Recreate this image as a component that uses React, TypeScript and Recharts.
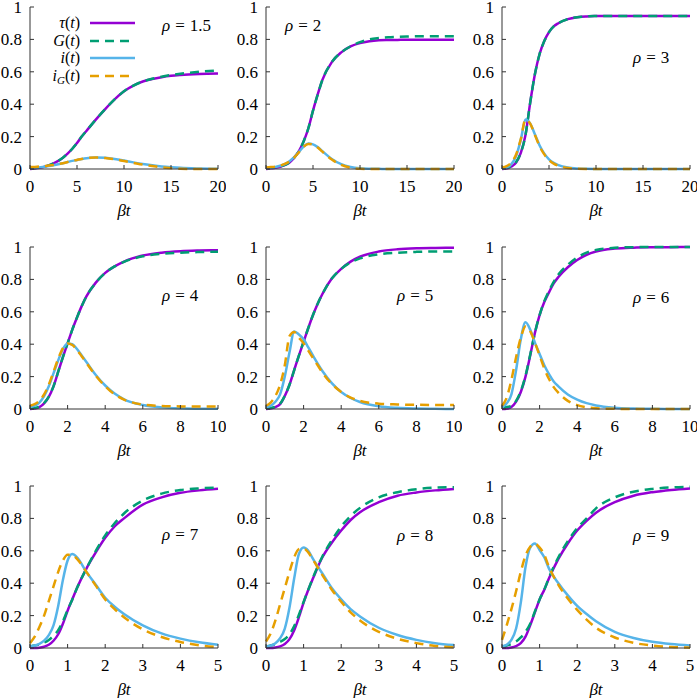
import React from 'react';
import { LineChart, Line, XAxis, YAxis } from 'recharts';

const FONT = '"Liberation Serif", "DejaVu Serif", serif';
const PURPLE = '#9400D3';
const GREEN = '#009E73';
const BLUE = '#56B4E9';
const ORANGE = '#E69F00';
const FRAME = '#333333';

// time grids (beta t)
const T_ROW1 = [0, 0.5, 1, 1.5, 2, 2.5, 3, 3.5, 4, 4.5, 5, 5.5, 6, 7, 8, 9, 10, 11, 12, 13, 14, 15, 16, 18, 20];
const T_ROW2 = [0, 0.25, 0.5, 0.75, 1, 1.25, 1.5, 1.75, 2, 2.25, 2.5, 2.75, 3, 3.5, 4, 4.5, 5, 6, 7, 8, 9, 10];
const T_ROW3 = [0, 0.125, 0.25, 0.375, 0.5, 0.625, 0.75, 0.875, 1, 1.125, 1.25, 1.5, 1.75, 2, 2.25, 2.5, 3, 3.5, 4, 4.5, 5];

const X_TICKS_ROW1 = [0, 5, 10, 15, 20];
const X_TICKS_ROW2 = [0, 2, 4, 6, 8, 10];
const X_TICKS_ROW3 = [0, 1, 2, 3, 4, 5];
const Y_TICKS = [0, 0.2, 0.4, 0.6, 0.8, 1];

// rho = 1.5
const TAU_1 = [0, 0.003, 0.007, 0.013, 0.022, 0.035, 0.05, 0.07, 0.095, 0.125, 0.16, 0.2, 0.235, 0.305, 0.37, 0.43, 0.48, 0.515, 0.54, 0.556, 0.567, 0.575, 0.58, 0.586, 0.589];
const G_1 = [0.005, 0.006, 0.009, 0.014, 0.022, 0.035, 0.05, 0.07, 0.095, 0.125, 0.16, 0.2, 0.235, 0.305, 0.37, 0.43, 0.48, 0.515, 0.54, 0.557, 0.57, 0.58, 0.588, 0.6, 0.608];
const I_1 = [0.005, 0.007, 0.01, 0.014, 0.018, 0.023, 0.029, 0.036, 0.043, 0.05, 0.056, 0.062, 0.067, 0.071, 0.069, 0.062, 0.052, 0.041, 0.031, 0.023, 0.016, 0.011, 0.007, 0.003, 0.001];
const IG_1 = [0.012, 0.013, 0.015, 0.018, 0.021, 0.025, 0.03, 0.036, 0.043, 0.05, 0.056, 0.062, 0.067, 0.071, 0.068, 0.06, 0.049, 0.038, 0.027, 0.018, 0.01, 0.005, 0.001, 0, 0];

// rho = 2
const TAU_2 = [0, 0.004, 0.008, 0.014, 0.024, 0.04, 0.07, 0.11, 0.17, 0.25, 0.36, 0.46, 0.55, 0.66, 0.72, 0.757, 0.777, 0.788, 0.794, 0.796, 0.797, 0.798, 0.798, 0.798, 0.798];
const G_2 = [0.006, 0.008, 0.011, 0.016, 0.025, 0.04, 0.07, 0.11, 0.17, 0.25, 0.36, 0.46, 0.55, 0.66, 0.72, 0.757, 0.783, 0.8, 0.808, 0.813, 0.816, 0.818, 0.819, 0.82, 0.82];
const I_2 = [0.005, 0.008, 0.012, 0.02, 0.03, 0.048, 0.073, 0.105, 0.138, 0.157, 0.152, 0.135, 0.11, 0.062, 0.03, 0.013, 0.005, 0.002, 0.001, 0, 0, 0, 0, 0, 0];
const IG_2 = [0.01, 0.012, 0.015, 0.021, 0.031, 0.047, 0.071, 0.103, 0.137, 0.155, 0.15, 0.133, 0.107, 0.058, 0.025, 0.008, 0.001, 0, 0, 0, 0, 0, 0, 0, 0];

// rho = 3
const TAU_3 = [0, 0.003, 0.015, 0.04, 0.1, 0.21, 0.41, 0.585, 0.71, 0.79, 0.845, 0.88, 0.9, 0.925, 0.937, 0.942, 0.944, 0.945, 0.945, 0.945, 0.945, 0.945, 0.945, 0.945, 0.945];
const G_3 = [0.005, 0.007, 0.018, 0.043, 0.1, 0.21, 0.41, 0.585, 0.71, 0.79, 0.845, 0.88, 0.9, 0.925, 0.937, 0.942, 0.944, 0.945, 0.945, 0.945, 0.945, 0.945, 0.945, 0.945, 0.945];
const I_3 = [0.003, 0.01, 0.03, 0.08, 0.18, 0.305, 0.28, 0.215, 0.145, 0.095, 0.06, 0.038, 0.024, 0.009, 0.003, 0.001, 0, 0, 0, 0, 0, 0, 0, 0, 0];
const IG_3 = [0.01, 0.018, 0.04, 0.09, 0.185, 0.305, 0.28, 0.21, 0.14, 0.09, 0.055, 0.033, 0.02, 0.006, 0.001, 0, 0, 0, 0, 0, 0, 0, 0, 0, 0];

// rho = 4
const TAU_4 = [0, 0.003, 0.012, 0.035, 0.075, 0.14, 0.23, 0.32, 0.405, 0.49, 0.565, 0.635, 0.695, 0.78, 0.84, 0.88, 0.91, 0.947, 0.965, 0.974, 0.978, 0.98];
const G_4 = [0.005, 0.007, 0.015, 0.037, 0.077, 0.14, 0.23, 0.32, 0.405, 0.49, 0.565, 0.635, 0.695, 0.78, 0.84, 0.88, 0.908, 0.943, 0.958, 0.965, 0.969, 0.971];
const I_4 = [0.01, 0.02, 0.04, 0.08, 0.14, 0.22, 0.3, 0.37, 0.405, 0.4, 0.37, 0.33, 0.29, 0.21, 0.145, 0.095, 0.06, 0.025, 0.01, 0.004, 0.002, 0.001];
const IG_4 = [0.02, 0.03, 0.05, 0.09, 0.15, 0.23, 0.31, 0.375, 0.405, 0.395, 0.365, 0.325, 0.285, 0.205, 0.14, 0.09, 0.058, 0.028, 0.019, 0.016, 0.015, 0.015];

// rho = 5
const TAU_5 = [0, 0.003, 0.012, 0.03, 0.08, 0.15, 0.24, 0.33, 0.415, 0.5, 0.58, 0.65, 0.71, 0.805, 0.865, 0.91, 0.94, 0.972, 0.986, 0.992, 0.994, 0.995];
const G_5 = [0.005, 0.007, 0.015, 0.033, 0.082, 0.15, 0.24, 0.33, 0.415, 0.5, 0.58, 0.65, 0.71, 0.805, 0.865, 0.905, 0.93, 0.955, 0.965, 0.97, 0.972, 0.973];
const I_5 = [0.01, 0.02, 0.045, 0.09, 0.2, 0.35, 0.478, 0.46, 0.43, 0.38, 0.33, 0.28, 0.235, 0.16, 0.105, 0.068, 0.043, 0.017, 0.007, 0.003, 0.001, 0];
const IG_5 = [0.02, 0.04, 0.08, 0.15, 0.27, 0.45, 0.475, 0.44, 0.405, 0.36, 0.315, 0.27, 0.225, 0.155, 0.105, 0.07, 0.05, 0.033, 0.028, 0.026, 0.025, 0.025];

// rho = 6
const TAU_6 = [0, 0.002, 0.012, 0.045, 0.105, 0.2, 0.33, 0.47, 0.58, 0.66, 0.72, 0.775, 0.815, 0.875, 0.92, 0.952, 0.972, 0.99, 0.996, 0.998, 0.999, 1.0];
const G_6 = [0.01, 0.012, 0.02, 0.05, 0.11, 0.205, 0.335, 0.47, 0.58, 0.665, 0.73, 0.785, 0.83, 0.89, 0.935, 0.965, 0.982, 0.995, 0.999, 1.0, 1.0, 1.0];
const I_6 = [0.01, 0.035, 0.09, 0.24, 0.43, 0.535, 0.49, 0.41, 0.34, 0.27, 0.215, 0.17, 0.14, 0.09, 0.058, 0.036, 0.022, 0.008, 0.003, 0.001, 0, 0];
const IG_6 = [0.02, 0.07, 0.18, 0.32, 0.44, 0.51, 0.48, 0.41, 0.33, 0.25, 0.185, 0.135, 0.1, 0.05, 0.024, 0.011, 0.005, 0.001, 0, 0, 0, 0];

// rho = 7
const TAU_7 = [0, 0, 0.002, 0.008, 0.02, 0.045, 0.085, 0.15, 0.23, 0.3, 0.37, 0.49, 0.59, 0.68, 0.75, 0.8, 0.885, 0.93, 0.958, 0.973, 0.983];
const G_7 = [0.01, 0.015, 0.022, 0.033, 0.05, 0.075, 0.11, 0.165, 0.235, 0.3, 0.37, 0.49, 0.6, 0.695, 0.77, 0.83, 0.91, 0.953, 0.975, 0.985, 0.99];
const I_7 = [0.01, 0.015, 0.025, 0.045, 0.08, 0.14, 0.26, 0.42, 0.54, 0.58, 0.56, 0.47, 0.39, 0.31, 0.255, 0.21, 0.14, 0.09, 0.058, 0.035, 0.02];
const IG_7 = [0.03, 0.07, 0.13, 0.2, 0.29, 0.38, 0.47, 0.54, 0.575, 0.575, 0.55, 0.47, 0.385, 0.3, 0.24, 0.19, 0.115, 0.068, 0.037, 0.017, 0.006];

// rho = 8
const TAU_8 = [0, 0, 0.003, 0.01, 0.025, 0.055, 0.11, 0.19, 0.28, 0.36, 0.43, 0.56, 0.65, 0.725, 0.79, 0.838, 0.9, 0.94, 0.96, 0.973, 0.982];
const G_8 = [0.01, 0.015, 0.025, 0.038, 0.055, 0.085, 0.135, 0.205, 0.285, 0.36, 0.435, 0.565, 0.665, 0.75, 0.815, 0.865, 0.93, 0.962, 0.98, 0.99, 0.993];
const I_8 = [0.01, 0.015, 0.03, 0.06, 0.12, 0.25, 0.43, 0.58, 0.62, 0.6, 0.55, 0.46, 0.37, 0.3, 0.24, 0.195, 0.125, 0.08, 0.05, 0.03, 0.018];
const IG_8 = [0.04, 0.09, 0.17, 0.27, 0.37, 0.47, 0.56, 0.61, 0.615, 0.59, 0.545, 0.45, 0.36, 0.285, 0.22, 0.17, 0.1, 0.057, 0.03, 0.013, 0.005];

// rho = 9
const TAU_9 = [0, 0, 0.003, 0.012, 0.03, 0.07, 0.14, 0.22, 0.3, 0.36, 0.43, 0.55, 0.645, 0.725, 0.785, 0.835, 0.9, 0.94, 0.962, 0.976, 0.985];
const G_9 = [0.01, 0.015, 0.025, 0.04, 0.065, 0.1, 0.15, 0.225, 0.3, 0.36, 0.435, 0.56, 0.66, 0.74, 0.8, 0.862, 0.93, 0.965, 0.982, 0.991, 0.995];
const I_9 = [0.01, 0.02, 0.05, 0.12, 0.28, 0.5, 0.62, 0.645, 0.605, 0.56, 0.49, 0.4, 0.325, 0.26, 0.21, 0.165, 0.1, 0.062, 0.038, 0.024, 0.015];
const IG_9 = [0.05, 0.14, 0.24, 0.35, 0.47, 0.57, 0.625, 0.643, 0.62, 0.575, 0.5, 0.39, 0.305, 0.235, 0.175, 0.125, 0.065, 0.032, 0.015, 0.006, 0.002];

const RHO_LABELS = ['1.5', '2', '3', '4', '5', '6', '7', '8', '9'];

type PanelCfg = {
  t: number[]; tau: number[]; g: number[]; i: number[]; ig: number[];
  xMax: number; xTicks: number[]; col: number; row: number;
  rho: string; rhoX: number; rhoY: number; legend?: boolean;
};

const PANELS: PanelCfg[] = [
  { t: T_ROW1, tau: TAU_1, g: G_1, i: I_1, ig: IG_1, xMax: 20, xTicks: X_TICKS_ROW1, col: 0, row: 0, rho: RHO_LABELS[0], rhoX: 162, rhoY: 28.5, legend: true },
  { t: T_ROW1, tau: TAU_2, g: G_2, i: I_2, ig: IG_2, xMax: 20, xTicks: X_TICKS_ROW1, col: 1, row: 0, rho: RHO_LABELS[1], rhoX: 49, rhoY: 28.5 },
  { t: T_ROW1, tau: TAU_3, g: G_3, i: I_3, ig: IG_3, xMax: 20, xTicks: X_TICKS_ROW1, col: 2, row: 0, rho: RHO_LABELS[2], rhoX: 161, rhoY: 60.5 },
  { t: T_ROW2, tau: TAU_4, g: G_4, i: I_4, ig: IG_4, xMax: 10, xTicks: X_TICKS_ROW2, col: 0, row: 1, rho: RHO_LABELS[3], rhoX: 162, rhoY: 58.5 },
  { t: T_ROW2, tau: TAU_5, g: G_5, i: I_5, ig: IG_5, xMax: 10, xTicks: X_TICKS_ROW2, col: 1, row: 1, rho: RHO_LABELS[4], rhoX: 161, rhoY: 58.5 },
  { t: T_ROW2, tau: TAU_6, g: G_6, i: I_6, ig: IG_6, xMax: 10, xTicks: X_TICKS_ROW2, col: 2, row: 1, rho: RHO_LABELS[5], rhoX: 161, rhoY: 60.5 },
  { t: T_ROW3, tau: TAU_7, g: G_7, i: I_7, ig: IG_7, xMax: 5, xTicks: X_TICKS_ROW3, col: 0, row: 2, rho: RHO_LABELS[6], rhoX: 162, rhoY: 58.5 },
  { t: T_ROW3, tau: TAU_8, g: G_8, i: I_8, ig: IG_8, xMax: 5, xTicks: X_TICKS_ROW3, col: 1, row: 2, rho: RHO_LABELS[7], rhoX: 161, rhoY: 59.5 },
  { t: T_ROW3, tau: TAU_9, g: G_9, i: I_9, ig: IG_9, xMax: 5, xTicks: X_TICKS_ROW3, col: 2, row: 2, rho: RHO_LABELS[8], rhoX: 161, rhoY: 59.5 },
];

const COL_LEFT = [0, 236, 472];
const ROW_TOP = [2, 242, 481];
const CHART_W = 226;
const CHART_H = 222;
const MARGIN = { top: 5, right: 8, left: 0, bottom: 0 };
const Y_AXIS_W = 30;
const X_AXIS_H = 55;
const PLOT_W = CHART_W - Y_AXIS_W - MARGIN.right;

const TICK_STYLE = { fontFamily: FONT, fontSize: 17, fill: '#000' };
const AXIS_LINE = { stroke: FRAME, strokeWidth: 1 };
const DASH = '9 6';
const LW = 2.5;

const fmtY = (v: number) => String(v);

function Legend() {
  const rows = [
    { y: 21, color: PURPLE, dash: undefined, label: <><tspan fontStyle="italic">τ</tspan>(<tspan fontStyle="italic">t</tspan>)</> },
    { y: 39, color: GREEN, dash: DASH, label: <><tspan fontStyle="italic">G</tspan>(<tspan fontStyle="italic">t</tspan>)</> },
    { y: 56, color: BLUE, dash: undefined, label: <><tspan fontStyle="italic">i</tspan>(<tspan fontStyle="italic">t</tspan>)</> },
    { y: 74, color: ORANGE, dash: DASH, label: <><tspan fontStyle="italic">i</tspan><tspan fontStyle="italic" fontSize={11} dy={3}>G</tspan><tspan dy={-3}>(</tspan><tspan fontStyle="italic">t</tspan>)</> },
  ];
  return (
    <g>
      {rows.map((r, k) => (
        <g key={k}>
          <text x={80} y={r.y + 5} textAnchor="end" fontFamily={FONT} fontSize={16} fill="#000">{r.label}</text>
          <line x1={90} x2={135} y1={r.y} y2={r.y} stroke={r.color} strokeWidth={LW} strokeDasharray={r.dash} />
        </g>
      ))}
    </g>
  );
}

function Panel({ cfg }: { cfg: PanelCfg }) {
  const data = cfg.t.map((t, k) => ({ t, tau: cfg.tau[k], g: cfg.g[k], i: cfg.i[k], ig: cfg.ig[k] }));
  const plotBottom = CHART_H - X_AXIS_H;
  return (
    <div style={{ position: 'absolute', left: COL_LEFT[cfg.col], top: ROW_TOP[cfg.row] }}>
      <LineChart width={CHART_W} height={CHART_H} data={data} margin={MARGIN}>
        <XAxis dataKey="t" type="number" domain={[0, cfg.xMax]} ticks={cfg.xTicks} interval={0}
          height={X_AXIS_H} tickSize={-4} tickMargin={15} axisLine={AXIS_LINE} tickLine={AXIS_LINE} tick={TICK_STYLE} />
        <XAxis xAxisId="top" orientation="top" dataKey="t" type="number" domain={[0, cfg.xMax]} ticks={cfg.xTicks} interval={0}
          height={0} tickSize={-4} tick={false} axisLine={AXIS_LINE} tickLine={AXIS_LINE} />
        <YAxis type="number" domain={[0, 1]} ticks={Y_TICKS} interval={0} width={Y_AXIS_W} tickSize={-4} tickMargin={12}
          axisLine={AXIS_LINE} tickLine={AXIS_LINE} tick={TICK_STYLE} tickFormatter={fmtY} />
        <YAxis yAxisId="right" orientation="right" type="number" domain={[0, 1]} ticks={Y_TICKS} interval={0} width={0}
          tickSize={-4} tick={false} axisLine={AXIS_LINE} tickLine={AXIS_LINE} />
        <Line dataKey="tau" type="monotone" stroke={PURPLE} strokeWidth={LW} dot={false} isAnimationActive={false} />
        <Line dataKey="g" type="monotone" stroke={GREEN} strokeWidth={LW} strokeDasharray={DASH} dot={false} isAnimationActive={false} />
        <Line dataKey="i" type="monotone" stroke={BLUE} strokeWidth={LW} dot={false} isAnimationActive={false} />
        <Line dataKey="ig" type="monotone" stroke={ORANGE} strokeWidth={LW} strokeDasharray={DASH} dot={false} isAnimationActive={false} />
        <text x={Y_AXIS_W + PLOT_W / 2} y={plotBottom + 47} textAnchor="middle" fontFamily={FONT} fontSize={17} fill="#000">
          <tspan fontStyle="italic">βt</tspan>
        </text>
        <text x={cfg.rhoX} y={cfg.rhoY} fontFamily={FONT} fontSize={17} fill="#000">
          <tspan fontStyle="italic">ρ</tspan><tspan dx={5}>=</tspan><tspan dx={5}>{cfg.rho}</tspan>
        </text>
        {cfg.legend ? <Legend /> : null}
      </LineChart>
    </div>
  );
}

export default function App() {
  return (
    <div style={{ position: 'absolute', left: 0, top: 0, width: 697, height: 698, background: '#fff', overflow: 'hidden' }}>
      {PANELS.map((p, k) => <Panel key={k} cfg={p} />)}
    </div>
  );
}
